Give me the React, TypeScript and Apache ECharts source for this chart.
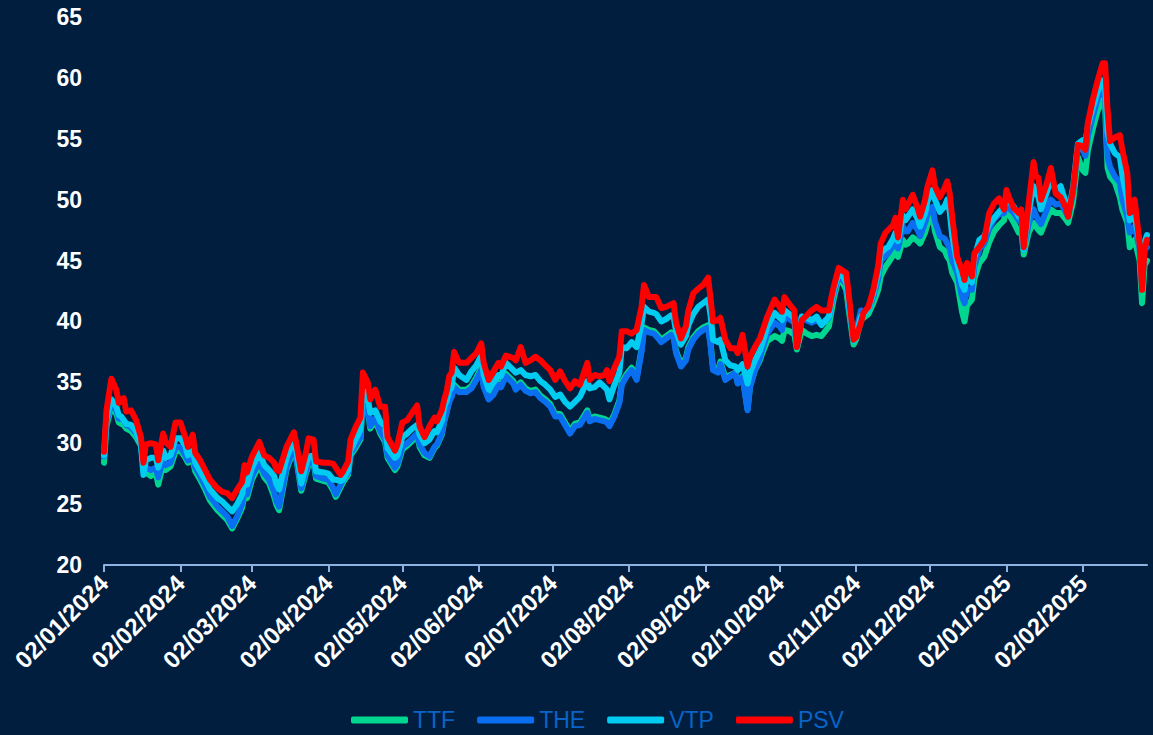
import React, { useEffect, useRef } from "react";
import * as echarts from "echarts";

const dates = [
  "2024-01-02","2024-01-03","2024-01-05","2024-01-07","2024-01-08","2024-01-09","2024-01-10","2024-01-11","2024-01-13","2024-01-15",
  "2024-01-17","2024-01-18","2024-01-19","2024-01-21","2024-01-23","2024-01-24","2024-01-26","2024-01-27","2024-01-29","2024-01-31",
  "2024-02-02","2024-02-04","2024-02-05","2024-02-07","2024-02-08","2024-02-10","2024-02-12","2024-02-14","2024-02-17","2024-02-19",
  "2024-02-21","2024-02-23","2024-02-25","2024-02-27","2024-02-28","2024-02-29","2024-03-02","2024-03-05","2024-03-07","2024-03-09",
  "2024-03-11","2024-03-12","2024-03-13","2024-03-16","2024-03-19","2024-03-20","2024-03-22","2024-03-24","2024-03-25","2024-03-27",
  "2024-03-28","2024-03-31","2024-04-02","2024-04-04","2024-04-05","2024-04-07","2024-04-08","2024-04-10","2024-04-11","2024-04-13",
  "2024-04-15","2024-04-16","2024-04-18","2024-04-19","2024-04-21","2024-04-23","2024-04-25","2024-04-26","2024-04-29","2024-04-30",
  "2024-05-02","2024-05-04","2024-05-06","2024-05-08","2024-05-09","2024-05-11","2024-05-13","2024-05-15","2024-05-16","2024-05-18",
  "2024-05-19","2024-05-20","2024-05-21","2024-05-22","2024-05-23","2024-05-25","2024-05-28","2024-05-30","2024-06-01","2024-06-03",
  "2024-06-04","2024-06-06","2024-06-08","2024-06-10","2024-06-11","2024-06-13","2024-06-16","2024-06-17","2024-06-19","2024-06-21",
  "2024-06-23","2024-06-25","2024-06-27","2024-06-29","2024-07-01","2024-07-03","2024-07-05","2024-07-07","2024-07-09","2024-07-11",
  "2024-07-13","2024-07-16","2024-07-17","2024-07-19","2024-07-21","2024-07-23","2024-07-24","2024-07-25","2024-07-27","2024-07-29",
  "2024-07-30","2024-08-01","2024-08-03","2024-08-05","2024-08-07","2024-08-08","2024-08-10","2024-08-12","2024-08-13","2024-08-15",
  "2024-08-17","2024-08-19","2024-08-20","2024-08-21","2024-08-23","2024-08-25","2024-08-26","2024-08-28","2024-08-30","2024-09-01",
  "2024-09-03","2024-09-04","2024-09-05","2024-09-07","2024-09-08","2024-09-10","2024-09-12","2024-09-14","2024-09-15","2024-09-17",
  "2024-09-19","2024-09-20","2024-09-22","2024-09-24","2024-09-25","2024-09-27","2024-09-30","2024-10-02","2024-10-03","2024-10-04",
  "2024-10-06","2024-10-08","2024-10-09","2024-10-11","2024-10-13","2024-10-15","2024-10-17","2024-10-19","2024-10-22","2024-10-23",
  "2024-10-24","2024-10-26","2024-10-28","2024-10-29","2024-10-30","2024-11-01","2024-11-02","2024-11-04","2024-11-05","2024-11-07",
  "2024-11-09","2024-11-11","2024-11-12","2024-11-14","2024-11-15","2024-11-17","2024-11-18","2024-11-19","2024-11-21","2024-11-22",
  "2024-11-23","2024-11-25","2024-11-27","2024-11-28","2024-11-30","2024-12-01","2024-12-03","2024-12-04","2024-12-06","2024-12-08",
  "2024-12-09","2024-12-10","2024-12-11","2024-12-13","2024-12-15","2024-12-16","2024-12-17","2024-12-19","2024-12-20","2024-12-22",
  "2024-12-24","2024-12-26","2024-12-28","2024-12-30","2025-01-01","2025-01-02","2025-01-03","2025-01-05","2025-01-07","2025-01-08",
  "2025-01-09","2025-01-11","2025-01-13","2025-01-14","2025-01-15","2025-01-16","2025-01-18","2025-01-20","2025-01-22","2025-01-24",
  "2025-01-26","2025-01-27","2025-01-29","2025-01-31","2025-02-02","2025-02-03","2025-02-04","2025-02-06","2025-02-08","2025-02-10",
  "2025-02-11","2025-02-12","2025-02-13","2025-02-15","2025-02-17","2025-02-18","2025-02-20","2025-02-21","2025-02-22","2025-02-23",
  "2025-02-25","2025-02-26","2025-02-27","2025-02-28"
];

const psv = [
  29.3,32.7,35.3,34.4,33.3,33.6,33.7,32.6,32.7,31.9,
  30.5,28.4,29.9,30.0,29.9,28.6,30.8,30.1,29.7,31.7,
  31.7,30.5,29.7,30.7,29.2,28.6,27.8,27.0,26.3,26.0,
  25.9,25.5,26.2,26.8,28.2,27.6,28.9,30.1,29.0,28.8,
  28.4,27.8,27.7,29.7,30.9,30.0,27.7,29.3,30.4,30.3,
  28.5,28.4,28.4,28.3,28.0,27.4,27.7,28.5,30.3,31.3,
  32.1,35.8,35.0,33.6,34.4,33.0,33.0,30.5,29.4,29.9,
  31.7,31.9,32.5,33.1,31.4,30.5,31.4,32.1,31.8,32.7,
  33.6,34.3,35.5,35.8,37.5,36.6,36.6,37.0,37.4,38.2,
  36.6,35.2,35.9,36.6,36.3,37.2,37.0,36.8,37.9,36.6,
  36.8,37.1,36.8,36.4,36.0,35.2,35.9,35.1,34.5,35.1,
  34.8,36.6,35.2,35.6,35.5,35.6,36.0,35.1,36.2,37.1,
  39.2,39.2,39.0,39.3,41.2,43.0,42.0,42.0,42.0,41.1,
  41.2,41.4,41.5,39.9,38.6,39.6,40.9,42.3,42.7,43.0,
  43.6,41.9,40.0,40.1,40.3,38.5,37.8,37.8,37.4,38.9,
  36.3,37.1,37.9,38.6,39.2,40.4,41.8,41.2,40.8,42.0,
  41.4,40.9,37.9,40.1,40.5,40.9,41.2,40.9,40.9,42.0,
  42.9,44.4,44.1,44.0,42.3,38.5,38.7,39.9,40.7,41.2,
  42.6,44.6,46.4,47.3,47.5,47.9,48.5,46.9,50.0,49.2,
  49.6,50.4,49.3,48.6,50.0,51.1,52.4,51.1,50.2,51.0,
  51.5,50.5,48.6,45.3,44.2,43.4,44.8,43.7,45.6,46.1,
  46.7,48.9,49.7,50.1,49.2,50.8,50.2,49.3,48.9,49.2,
  46.1,49.7,53.1,51.9,51.8,50.0,51.1,52.6,50.5,50.2,
  49.4,48.6,50.8,54.5,54.4,54.1,56.3,58.2,59.8,61.2,
  61.2,57.4,54.8,55.1,55.3,54.1,52.2,48.9,49.4,50.0,
  46.4,42.6,45.9,46.7
];

const vtp = [
  29.0,32.0,33.6,33.0,32.3,32.2,31.9,31.6,31.5,31.0,
  29.8,27.4,28.6,28.8,28.8,28.0,29.4,28.8,29.0,30.4,
  30.4,29.8,29.0,29.4,28.4,27.7,27.0,26.2,25.5,25.2,
  24.8,24.4,25.0,25.8,27.0,26.6,28.0,29.2,28.2,27.8,
  27.3,26.6,26.2,28.8,30.3,29.4,26.7,28.3,28.9,29.0,
  27.7,27.6,27.5,27.0,27.0,26.9,27.0,27.8,29.4,30.3,
  31.1,34.4,33.6,32.5,32.7,31.8,31.4,29.6,28.8,29.0,
  30.5,30.8,31.2,31.5,30.7,30.0,30.3,31.0,30.9,31.8,
  33.0,33.5,34.3,34.6,36.2,35.6,35.2,35.9,36.4,37.2,
  35.6,34.4,35.0,35.6,35.5,36.6,36.0,35.8,36.0,35.6,
  35.5,35.6,35.1,34.8,34.4,33.8,34.0,33.4,33.0,33.4,
  33.8,35.1,34.5,34.6,35.0,34.6,34.4,33.6,34.8,35.8,
  37.9,37.8,38.3,37.9,39.8,41.2,40.8,40.7,40.6,40.0,
  40.2,40.5,40.4,39.2,38.1,38.8,39.7,40.6,41.2,41.5,
  41.8,40.5,38.5,38.3,38.5,36.8,36.4,36.3,36.0,36.5,
  34.9,35.8,36.8,37.6,38.2,39.6,40.7,40.3,40.1,40.9,
  40.6,40.3,38.0,40.4,40.3,40.1,40.4,39.7,40.4,41.6,
  42.6,44.0,43.6,43.2,41.6,38.4,38.9,40.4,40.6,41.0,
  42.3,44.0,45.6,46.0,46.1,46.8,47.3,46.6,48.7,48.3,
  48.6,49.2,48.4,47.8,48.9,49.9,50.8,50.0,49.0,49.5,
  50.0,49.0,47.0,44.8,43.0,42.6,43.6,43.2,45.2,46.7,
  47.0,48.0,48.5,49.0,49.4,50.2,49.9,49.4,48.6,48.9,
  45.9,49.0,51.1,50.6,50.2,49.2,50.4,51.6,50.8,51.1,
  49.8,48.9,51.0,54.6,54.9,54.7,56.0,57.5,58.9,59.8,
  59.3,55.5,54.6,53.8,53.5,52.0,50.0,48.3,48.4,48.6,
  46.5,43.4,46.5,47.1
];

const the = [
  28.9,31.7,33.3,32.7,32.0,32.0,31.9,31.5,31.3,30.8,
  30.0,28.0,28.0,27.8,28.0,27.2,28.7,28.2,28.4,29.7,
  29.7,29.0,28.6,28.8,28.0,27.3,26.5,25.6,24.8,24.4,
  24.0,23.2,24.0,25.0,26.2,25.8,27.3,28.5,27.5,27.0,
  26.0,25.2,24.8,28.0,29.7,28.9,26.3,27.8,28.4,28.6,
  27.3,27.1,27.0,26.3,25.8,26.6,27.0,27.6,29.2,29.8,
  30.5,33.8,32.8,31.4,32.1,31.0,30.3,29.0,28.0,28.3,
  29.7,30.0,30.4,30.8,29.9,29.2,28.9,29.7,29.9,30.8,
  31.9,32.6,33.4,33.8,34.6,34.2,34.2,34.5,35.2,36.0,
  34.6,33.6,34.0,34.8,34.6,35.5,34.9,34.4,34.8,34.3,
  34.1,34.2,33.7,33.4,33.0,32.2,32.2,31.5,30.8,31.4,
  31.5,32.5,31.8,32.0,31.9,31.8,31.7,31.4,32.2,33.3,
  34.8,35.5,36.0,35.2,37.5,39.3,39.1,39.0,38.8,38.3,
  38.6,38.9,38.7,37.4,36.3,36.8,37.7,38.5,39.0,39.3,
  39.5,38.0,36.0,35.8,36.5,35.2,35.5,35.8,34.9,35.4,
  32.7,34.6,36.0,37.0,37.7,39.0,39.9,39.6,39.3,40.4,
  40.2,39.9,37.9,40.4,40.1,39.9,40.1,39.8,40.3,41.4,
  42.3,43.8,43.3,43.1,41.4,38.6,39.2,40.9,40.8,41.0,
  42.0,43.5,45.0,45.4,45.6,46.2,46.7,46.0,47.8,47.4,
  47.4,48.1,47.5,47.0,48.1,48.8,49.4,48.2,47.0,46.8,
  46.4,46.0,45.0,44.0,42.0,41.5,42.6,42.6,44.5,45.9,
  46.4,47.6,48.4,48.8,48.9,49.7,49.3,48.9,48.3,48.5,
  45.9,48.0,49.2,48.7,48.3,48.0,49.0,50.0,49.6,49.7,
  49.0,48.6,50.6,54.4,54.1,53.6,55.2,56.8,58.3,59.2,
  58.6,53.5,52.7,51.9,51.4,50.0,48.6,47.3,47.5,47.8,
  46.0,42.9,45.9,46.1
];

const ttf = [
  28.4,31.4,33.0,32.4,31.7,31.6,31.5,31.2,31.0,30.5,
  29.8,28.1,27.6,27.3,27.6,26.6,28.3,27.8,28.1,29.3,
  29.4,28.8,28.4,28.6,27.7,27.0,26.2,25.3,24.5,24.1,
  23.7,23.0,23.8,24.7,25.8,25.5,27.0,28.2,27.2,26.7,
  25.6,24.9,24.5,27.8,29.5,28.7,26.1,27.6,28.2,28.4,
  27.1,26.9,26.8,26.1,25.6,26.4,26.8,27.4,29.0,29.6,
  30.3,33.6,32.6,31.2,31.9,30.8,30.1,28.8,27.8,28.1,
  29.5,29.8,30.2,30.6,29.7,29.0,28.8,29.6,29.8,30.7,
  31.8,32.6,33.5,33.9,34.8,34.4,34.4,34.7,35.4,36.2,
  34.8,33.7,34.2,35.0,34.8,35.7,35.1,34.6,35.0,34.5,
  34.3,34.4,33.9,33.6,33.2,32.4,32.4,31.7,31.0,31.6,
  31.7,32.7,32.0,32.2,32.1,32.0,31.9,31.6,32.4,33.5,
  35.0,35.7,36.2,35.4,37.7,39.5,39.3,39.2,39.0,38.5,
  38.8,39.1,38.9,37.6,36.5,37.0,37.9,38.7,39.2,39.5,
  39.7,38.2,36.2,36.0,36.7,35.4,35.6,35.8,35.0,35.5,
  32.8,34.7,36.0,36.8,37.4,38.4,38.8,38.6,38.4,39.3,
  39.2,38.9,37.7,39.3,39.0,38.8,38.9,38.8,39.6,40.8,
  41.9,43.6,43.0,42.6,41.0,38.1,38.5,40.1,40.3,40.6,
  41.5,42.6,43.7,44.5,44.8,45.4,45.9,45.3,46.7,46.3,
  46.4,46.9,46.6,46.4,47.3,48.0,48.6,47.4,46.1,45.8,
  45.3,45.0,44.0,43.2,40.8,40.0,41.3,41.8,43.5,44.8,
  45.3,46.5,47.4,47.9,48.3,49.4,48.8,48.1,47.3,47.6,
  45.5,47.3,48.1,47.8,47.5,47.3,48.3,49.2,48.9,48.9,
  48.4,48.1,49.8,53.5,52.4,52.2,54.0,55.8,57.3,58.2,
  57.6,52.6,51.9,51.4,50.2,49.2,48.1,46.1,46.4,46.7,
  45.0,41.5,44.6,45.0
];

const seriesNames = ["TTF", "THE", "VTP", "PSV"];
const seriesColors = ["#00D68F", "#0A6EF0", "#00CCF2", "#FF0000"];
const seriesValues = [ttf, the, vtp, psv];

const axisStart = "2024-01-02";
const axisEnd = "2025-02-28";
const yMin = 20;
const yMax = 65;
const yStep = 5;

const BG = "#011E3F";
const FONT = "'Liberation Sans', Arial, sans-serif";

function buildDays(start: string, end: string): string[] {
  const out: string[] = [];
  const [sy, sm, sd] = start.split("-").map(Number);
  const [ey, em, ed] = end.split("-").map(Number);
  let t = Date.UTC(sy, sm - 1, sd);
  const stop = Date.UTC(ey, em - 1, ed);
  while (t <= stop) {
    const d = new Date(t);
    const s =
      d.getUTCFullYear() +
      "-" +
      String(d.getUTCMonth() + 1).padStart(2, "0") +
      "-" +
      String(d.getUTCDate()).padStart(2, "0");
    out.push(s);
    t += 86400000;
  }
  return out;
}

const isTickDay = (_i: number, v: string) => typeof v === "string" && v.slice(8, 10) === "02";

export default function App() {
  const ref = useRef<HTMLDivElement>(null);
  useEffect(() => {
    document.body.style.margin = "0";
    document.body.style.background = BG;
    if (!ref.current) return;
    const chart = echarts.init(ref.current, null, { renderer: "svg" });
    const days = buildDays(axisStart, axisEnd);
    chart.setOption({
      animation: false,
      backgroundColor: BG,
      grid: { left: 104, right: 6, top: 17, bottom: 170, containLabel: false },
      xAxis: {
        type: "category",
        data: days,
        boundaryGap: false,
        axisLine: { show: true, lineStyle: { color: "#8DB3E2", width: 2 } },
        axisTick: { show: true, interval: isTickDay, length: 7, lineStyle: { color: "#8DB3E2", width: 2 } },
        axisLabel: {
          interval: isTickDay,
          rotate: 45,
          margin: 14,
          color: "#FFFFFF",
          fontWeight: "bold",
          fontSize: 24,
          fontFamily: FONT,
          formatter: (v: string) => `${v.slice(8, 10)}/${v.slice(5, 7)}/${v.slice(0, 4)}`,
        },
        splitLine: { show: false },
      },
      yAxis: {
        type: "value",
        min: yMin,
        max: yMax,
        interval: yStep,
        axisLine: { show: false },
        axisTick: { show: false },
        splitLine: { show: false },
        axisLabel: { color: "#FFFFFF", fontWeight: "bold", fontSize: 23, fontFamily: FONT, margin: 22 },
      },
      legend: {
        data: seriesNames,
        left: 346,
        top: 703,
        icon: "roundRect",
        itemWidth: 57,
        itemHeight: 7,
        itemGap: 22,
        textStyle: { color: "#0A64C8", fontSize: 23, lineHeight: 24, fontFamily: FONT },
      },
      series: seriesNames.map((name, k) => ({
        name,
        type: "line",
        data: dates.map((d, i) => [d, seriesValues[k][i]]),
        showSymbol: false,
        symbol: "none",
        color: seriesColors[k],
        lineStyle: { width: 6, color: seriesColors[k], join: "round", cap: "round" },
        emphasis: { disabled: true },
        z: 2 + k,
      })),
    });
    return () => chart.dispose();
  }, []);
  return <div ref={ref} style={{ width: 1153, height: 735, background: BG }} />;
}
